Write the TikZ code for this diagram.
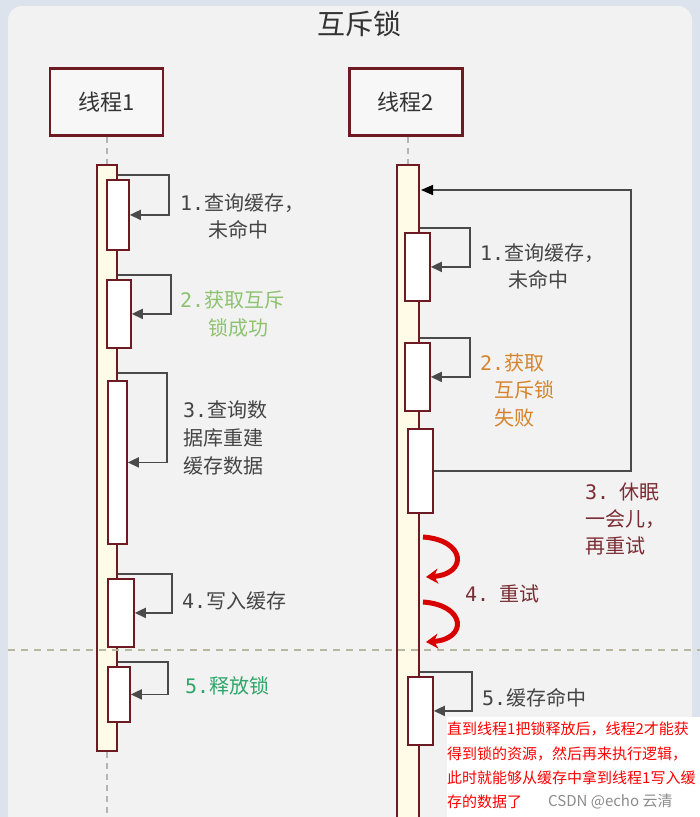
\documentclass[tikz,border=0pt]{standalone}
\usepackage{fontspec}
\setmainfont{Noto Sans CJK SC}
\newfontfamily\monof{DejaVu Sans Mono}
\usetikzlibrary{arrows.meta}
\definecolor{bgblue}{HTML}{DCE3EC}
\definecolor{panel}{HTML}{F2F2F2}
\definecolor{frame}{HTML}{6E1A22}
\definecolor{barfill}{HTML}{FFFBE6}
\definecolor{loopc}{HTML}{4A4A4A}
\definecolor{txtg}{HTML}{444444}
\definecolor{lgreen}{HTML}{8DC26F}
\definecolor{dgreen}{HTML}{30A56A}
\definecolor{orangec}{HTML}{D4842E}
\definecolor{dredc}{HTML}{7B2C34}
\definecolor{sepc}{HTML}{B8B8A0}
\definecolor{lifec}{HTML}{B4B4B4}
\tikzset{
  x=1pt, y=-1pt,
  thread/.style={draw=frame, line width=2.4pt, fill=panel!60!white, minimum width=113pt, minimum height=67pt, inner sep=0pt, font=\fontsize{22}{24}\selectfont, text=black!80},
  outerbar/.style={draw=frame, line width=1.8pt, fill=barfill, inner sep=0pt, anchor=north west},
  actbox/.style={draw=frame, line width=1.8pt, fill=white, inner sep=0pt, anchor=north west},
  loopline/.style={draw=loopc, line width=1.8pt, -{Triangle[length=11pt,width=10pt]}},
  lifeline/.style={draw=lifec, line width=1.3pt, dash pattern=on 6pt off 5pt},
  lbl/.style={anchor=west, inner sep=0pt, font=\fontsize{20}{22}\selectfont},
  redarr/.style={draw=red!85!black, line width=5pt, -{Stealth[length=12pt,width=15pt]}},
  note/.style={anchor=west, inner sep=0pt, font=\fontsize{15}{17}\selectfont, text=red},
}
\begin{document}
\begin{tikzpicture}
\useasboundingbox (0,0) rectangle (700,817);
% background
\fill[bgblue] (0,0) rectangle (700,817);
\fill[panel, rounded corners=14pt] (8,6) rectangle (692,840);
% title
\node[inner sep=0pt, font=\fontsize{28}{30}\selectfont, text=black!80] (title) at (359,24) {互斥锁};
% thread boxes
\node[thread] (th1) at (106.5,102) {线程1};
\node[thread] (th2) at (406,102) {线程2};
% outer bars
\node[outerbar, minimum width=20pt, minimum height=586pt] (bar1) at (96,164) {};
\node[outerbar, minimum width=22pt, minimum height=660pt] (bar2) at (396,164) {};
% lifelines
\draw[lifeline] (th1.south -| bar1.north) -- (bar1.north);
\draw[lifeline] (th2.south -| bar2.north) -- (bar2.north);
\coordinate (end1) at (bar1.south |- 0,817);
\draw[lifeline] (bar1.south) -- (end1);
% separator
\draw[draw=sepc, line width=1.2pt, dash pattern=on 7pt off 6pt] (8,650) -- (700,650);
% thread1 activation boxes
\node[actbox, minimum width=22pt, minimum height=70pt] (a1) at (106,179) {};
\node[actbox, minimum width=24pt, minimum height=68pt] (a2) at (106,279) {};
\node[actbox, minimum width=19pt, minimum height=163pt] (a3) at (107,380) {};
\node[actbox, minimum width=26pt, minimum height=68pt] (a4) at (107,578) {};
\node[actbox, minimum width=22pt, minimum height=55pt] (a5) at (107,666) {};
% thread2 activation boxes
\node[actbox, minimum width=25pt, minimum height=68pt] (b1) at (404,232) {};
\node[actbox, minimum width=25pt, minimum height=68pt] (b2) at (404,342) {};
\node[actbox, minimum width=25pt, minimum height=84pt] (b3) at (407,428) {};
\node[actbox, minimum width=25pt, minimum height=68pt] (b5) at (407,676) {};
% thread1 loops
\coordinate (s1) at (bar1.east |- 0,175);
\draw[loopline] (s1) -- (169,175) |- (a1.east);
\coordinate (s2) at (bar1.east |- 0,275);
\draw[loopline] (s2) -- (171,275) |- (a2.east);
\coordinate (s3) at (bar1.east |- 0,373);
\draw[loopline] (s3) -- (167,373) |- (a3.east);
\coordinate (s4) at (bar1.east |- 0,574);
\draw[loopline] (s4) -- (172,574) |- (a4.east);
\coordinate (s5) at (bar1.east |- 0,662);
\draw[loopline] (s5) -- (168,662) |- (a5.east);
% thread2 loops
\coordinate (u1) at (bar2.east |- 0,228);
\draw[loopline] (u1) -- (470,228) |- (b1.east);
\coordinate (u2) at (bar2.east |- 0,338);
\draw[loopline] (u2) -- (470,338) |- (b2.east);
\coordinate (u5) at (bar2.east |- 0,672);
\draw[loopline] (u5) -- (472,672) |- (b5.east);
% big retry loop
\coordinate (rtip) at (421,190);
\draw[draw=loopc, line width=1.4pt, -{Triangle[length=12pt,width=10pt,color=black]}] (b3.east) -| (631,190) -- (rtip);
% red curved arrows
\coordinate (c1a) at (423,537);
\coordinate (c1b) at (426,577);
\draw[redarr] (c1a) .. controls (466,540) and (468,574) .. (c1b);
\coordinate (c2a) at (423,602);
\coordinate (c2b) at (426,642);
\draw[redarr] (c2a) .. controls (466,605) and (468,639) .. (c2b);
% thread1 labels
\node[lbl, text=txtg] (l1a) at (180,203) {{\monof 1.}查询缓存，};
\node[lbl, text=txtg] (l1b) at (208,230) {未命中};
\node[lbl, text=lgreen] (l2a) at (180,300) {{\monof 2.}获取互斥};
\node[lbl, text=lgreen] (l2b) at (208,328) {锁成功};
\node[lbl, text=txtg] (l3a) at (183,410) {{\monof 3.}查询数};
\node[lbl, text=txtg] (l3b) at (183,438) {据库重建};
\node[lbl, text=txtg] (l3c) at (183,466) {缓存数据};
\node[lbl, text=txtg] (l4) at (182,601) {{\monof 4.}写入缓存};
\node[lbl, text=dgreen] (l5) at (185,686) {{\monof 5.}释放锁};
% thread2 labels
\node[lbl, text=txtg] (m1a) at (480,253) {{\monof 1.}查询缓存，};
\node[lbl, text=txtg] (m1b) at (508,280) {未命中};
\node[lbl, text=orangec] (m2a) at (480,363) {{\monof 2.}获取};
\node[lbl, text=orangec] (m2b) at (494,390) {互斥锁};
\node[lbl, text=orangec] (m2c) at (494,418) {失败};
\node[lbl, text=dredc] (m3a) at (585,492) {{\monof 3.}\hspace{10pt}休眠};
\node[lbl, text=dredc] (m3b) at (585,519) {一会儿，};
\node[lbl, text=dredc] (m3c) at (585,546) {再重试};
\node[lbl, text=dredc] (m4) at (465,594) {{\monof 4.}\hspace{10pt}重试};
\node[lbl, text=txtg] (m5) at (482,698) {{\monof 5.}缓存命中};
% annotation
\fill[white] (447,717) rectangle (700,817);
\node[note] (n1) at (447,729) {直到线程1把锁释放后，线程2才能获};
\node[note] (n2) at (447,754) {得到锁的资源，然后再来执行逻辑，};
\node[note] (n3) at (447,778) {此时就能够从缓存中拿到线程1写入缓};
\node[note] (n4) at (447,802) {存的数据了};
\node[anchor=west, inner sep=0pt, font=\fontsize{15}{17}\selectfont, text=black!45] (csdn) at (548,801) {CSDN @echo 云清};
\end{tikzpicture}
\end{document}
